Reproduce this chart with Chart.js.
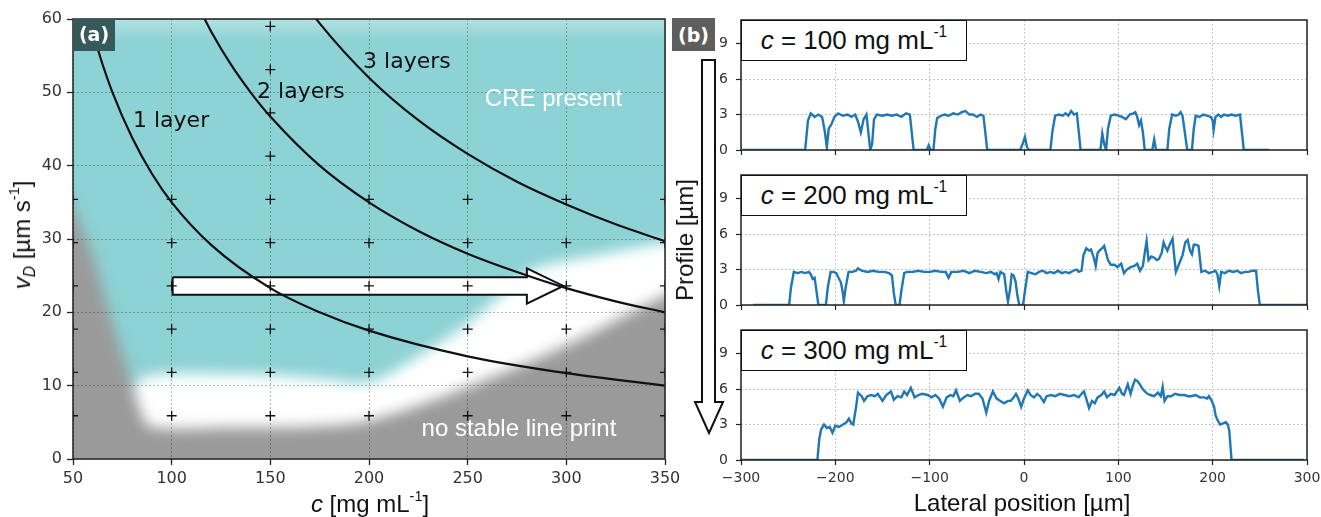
<!DOCTYPE html>
<html>
<head>
<meta charset="utf-8">
<title>Line print regimes and height profiles</title>
<script src="https://cdn.jsdelivr.net/npm/chart.js@4.4.1/dist/chart.umd.min.js"></script>
<style>
  html, body { margin: 0; padding: 0; background: #fff; }
  body { position: relative; width: 1321px; height: 517px; overflow: hidden; font-family: "Liberation Sans", Arial, sans-serif; color: #111; }
  canvas { position: absolute; }
  .txt { position: absolute; white-space: nowrap; line-height: 1; }
  .txt sup, .legend sup { font-size: 60%; vertical-align: 0; position: relative; top: -0.75em; }
  .txt sub { font-size: 65%; vertical-align: 0; position: relative; top: 0.3em; }
  .ctr { transform: translate(-50%, -50%); }
  .rot { transform: translate(-50%, -50%) rotate(-90deg); }
  .tag { position: absolute; color: #fff; font-weight: bold; font-family: "DejaVu Sans"; font-size: 19px; display: flex; align-items: center; justify-content: center; }
  .legend { position: absolute; box-sizing: border-box; width: 226px; height: 41px; background: #fff; border: 1.5px solid #111; display: flex; align-items: center; justify-content: center; font-size: 26px; white-space: nowrap; }
</style>
</head>
<body>
<canvas id="phase" width="690" height="517" style="left:0;top:0"></canvas>
<canvas id="prof0" width="661" height="160" style="left:660px;top:0"></canvas>
<canvas id="prof1" width="661" height="160" style="left:660px;top:160px"></canvas>
<canvas id="prof2" width="661" height="197" style="left:660px;top:320px"></canvas>

<div class="txt ctr" style="left:370px;top:504px;font-size:24px"><i>c</i> [mg mL<sup>-1</sup>]</div>
<div class="txt rot" style="left:22px;top:235px;font-size:24px"><i>v</i><sub><i>D</i></sub> [µm s<sup>-1</sup>]</div>
<div class="txt ctr" style="left:1022px;top:503px;font-size:24px">Lateral position [µm]</div>
<div class="txt rot" style="left:685px;top:240px;font-size:24px">Profile [µm]</div>
<div class="tag" style="left:672px;top:18px;width:43px;height:33px;background:#5e5e5e">(b)</div>
<svg style="position:absolute;left:690px;top:55px" width="40" height="385">
  <polygon points="12,5 25,5 25,347 33,347 19,378 5,347 12,347" fill="#fff" stroke="#111" stroke-width="2"/>
</svg>
<div id="legends"></div>

<script>
// ---- panel (a): print speed vs concentration ----
const concTicks = [50, 100, 150, 200, 250, 300, 350];
const speedTicks = [0, 10, 20, 30, 40, 50, 60];

const layer1C = [58, 60, 65, 70, 80, 90, 100, 120, 150, 175, 200, 250, 300, 350];
const layer1V = [60.3, 58.3, 53.8, 50.0, 43.8, 38.9, 35.0, 29.2, 23.3, 20.0, 17.5, 14.0, 11.7, 10.0];
const layer2C = [115, 120, 130, 140, 150, 175, 200, 225, 250, 275, 300, 325, 350];
const layer2V = [60.9, 58.3, 53.8, 50.0, 46.7, 40.0, 35.0, 31.1, 28.0, 25.5, 23.3, 21.5, 20.0];
const layer3C = [172, 175, 200, 225, 250, 275, 300, 325, 350];
const layer3V = [60.5, 59.4, 52.0, 46.2, 41.6, 37.8, 34.7, 32.0, 29.7];

// upper edges of the "no stable line print" (gray) and transition (white) zones
const grayEdgeC = [20, 40, 50, 59, 69, 80, 84, 89, 130, 170, 200, 250, 300, 350, 390];
const grayEdgeV = [45, 40, 34, 28.5, 19.4, 10.3, 6.7, 4.4, 4.3, 4.4, 5.2, 9.8, 15.5, 22.3, 27];
const whiteEdgeC = [20, 78, 90, 150, 175, 200, 225, 250, 283, 300, 350, 390];
const whiteEdgeV = [5, 10, 11.5, 11.5, 11, 10.5, 14, 18.5, 25.8, 27, 29.5, 31];

const arrowC = [100.5, 280, 280, 298.5, 280, 280, 100.5, 100.5];
const arrowV = [24.8, 24.8, 26.0, 23.6, 21.2, 22.4, 22.4, 24.8];

const printC = [50, 100, 150, 200, 250, 300, 350];
const printV = [5.9, 11.8, 17.7, 23.6, 29.5, 35.4];
const extraPrintC = [150, 150, 150, 150];
const extraPrintV = [41.3, 47.2, 53.1, 59.0];

const layerLabels = ['1 layer', '2 layers', '3 layers'];

// ---- panel (b): height profiles ----
const lateralTicks = [-300, -200, -100, 0, 100, 200, 300];
const profileTicks = [0, 3, 6, 9];
const concentrations = [100, 200, 300];

const profile100 = [[-298,0],[-232,0],[-229,2.5],[-226,3.1],[-222,2.8],[-218,3.0],[-214,2.8],[-211,1.5],[-209,0.2],[-207,1.8],[-204,2.2],[-201,2.8],[-197,3.1],[-192,2.9],[-187,3.0],[-183,2.8],[-179,3.0],[-176,2.4],[-173,1.5],[-170,2.6],[-167,3.0],[-165,1.5],[-163,0],[-161,0.5],[-159,2.6],[-156,3.0],[-150,2.9],[-145,3.0],[-140,2.9],[-135,3.0],[-130,2.8],[-125,3.1],[-121,3.0],[-119,1.5],[-117,0],[-103,0],[-101,0.4],[-99,0],[-96,0],[-94,1.8],[-92,2.7],[-88,2.9],[-84,3.0],[-80,2.9],[-75,3.1],[-70,3.0],[-66,3.2],[-62,3.3],[-58,3.0],[-54,3.0],[-50,2.8],[-46,3.0],[-43,2.9],[-41,1.5],[-39,0],[-4,0],[-1,0.6],[1,1.1],[3,0.3],[5,0],[28,0],[30,1.5],[33,2.9],[37,3.0],[41,2.9],[44,3.1],[47,2.9],[50,3.3],[53,3.0],[56,3.1],[58,1.6],[60,0],[81,0],[83,1.4],[85,0.5],[87,0],[89,1.8],[92,2.9],[96,3.0],[100,2.9],[104,2.8],[108,2.6],[112,3.0],[116,3.1],[118,3.2],[120,2.8],[122,2.1],[124,2.5],[126,1.5],[128,0],[136,0],[138,0.9],[140,0],[152,0],[154,1.8],[157,3.0],[161,2.9],[164,3.0],[166,3.2],[168,2.9],[171,1.2],[173,0],[178,0],[180,1.8],[182,2.9],[186,2.8],[190,3.0],[194,2.9],[198,2.8],[200,2.5],[201,1.7],[203,2.8],[206,3.0],[209,2.8],[212,3.0],[216,2.9],[220,3.0],[224,2.9],[229,3.0],[231,1.5],[233,0],[260,0]];

const profile200 = [[-287,0],[-249,0],[-247,1.5],[-244,2.8],[-240,2.7],[-236,2.8],[-232,2.7],[-228,2.8],[-226,2.6],[-224,2.2],[-222,2.3],[-220,1.2],[-218,0],[-210,0],[-208,1.5],[-205,2.8],[-202,2.8],[-199,2.7],[-196,2.2],[-194,1.9],[-192,1.0],[-191,0.3],[-189,1.5],[-186,2.8],[-182,2.8],[-178,2.9],[-176,3.1],[-172,2.9],[-166,2.8],[-160,2.9],[-154,2.8],[-148,2.8],[-143,2.7],[-140,2.5],[-138,1.0],[-136,0],[-132,0],[-130,1.2],[-127,2.7],[-124,2.8],[-118,2.8],[-112,2.9],[-106,2.8],[-100,2.8],[-94,2.9],[-88,2.8],[-83,2.8],[-80,2.3],[-77,2.8],[-70,2.8],[-64,2.9],[-58,2.7],[-52,2.9],[-46,2.8],[-40,2.7],[-35,2.8],[-31,2.6],[-29,2.7],[-27,2.2],[-25,2.8],[-21,2.6],[-19,1.3],[-17,0.3],[-15,1.2],[-13,2.6],[-11,2.5],[-9,2.0],[-7,0.8],[-5,0],[-1,0],[1,1.2],[4,2.8],[8,2.7],[12,2.6],[16,2.8],[20,2.9],[24,2.7],[28,2.8],[32,2.7],[36,2.9],[40,2.7],[44,2.8],[48,2.7],[52,2.9],[56,3.0],[58,2.8],[61,2.9],[63,4.2],[66,4.8],[69,4.6],[71,4.7],[74,4.0],[76,3.3],[78,4.4],[80,4.6],[83,4.8],[85,5.0],[87,4.4],[89,3.8],[92,3.4],[96,3.4],[99,3.2],[103,3.5],[106,2.7],[109,3.0],[113,3.2],[117,3.3],[120,3.5],[123,2.9],[126,3.3],[128,4.4],[130,5.4],[132,3.8],[135,4.1],[138,4.0],[141,3.8],[143,3.9],[146,4.4],[148,5.3],[150,4.9],[152,4.6],[155,5.2],[157.5,5.6],[159,4.3],[161,2.8],[163,3.2],[165,3.6],[168,4.2],[171,5.3],[173.5,5.5],[176,4.6],[178,4.3],[180,5.1],[182,5.1],[185,5.0],[188,2.8],[192,2.9],[196,2.7],[200,2.8],[203,2.9],[205,2.6],[207,1.6],[209,2.8],[213,2.7],[217,2.9],[222,2.8],[226,2.9],[230,2.7],[234,2.8],[238,2.8],[242,2.9],[246,2.9],[248,1.2],[250,0],[300,0]];

const profile300 = [[-300,0],[-219,0],[-217,1.8],[-215,2.6],[-212,3.0],[-209,2.7],[-206,2.8],[-203,2.3],[-200,2.9],[-196,2.8],[-192,3.0],[-188,3.2],[-185.6,3.5],[-183,3.1],[-181,3.0],[-178,4.5],[-176,5.7],[-172,5.4],[-169.6,5.0],[-166,5.4],[-162,5.5],[-158,5.4],[-155,5.6],[-150,5.0],[-146,5.5],[-141,5.8],[-138,5.1],[-134,5.4],[-130,5.3],[-127,5.8],[-124,5.5],[-120,6.1],[-116,5.3],[-112,5.5],[-108,5.6],[-102,5.5],[-98,5.3],[-94,5.5],[-90,5.2],[-86,4.5],[-82,5.3],[-78,5.5],[-75,5.4],[-72,5.9],[-68,5.0],[-64,5.3],[-60,5.5],[-56,5.4],[-52,5.6],[-48,5.6],[-44,5.2],[-40,4.0],[-37,5.0],[-33,5.8],[-29,5.2],[-25,5.0],[-21,4.8],[-17,5.0],[-14,5.0],[-11,5.3],[-8.5,5.6],[-6,5.2],[-3,4.5],[0,5.2],[4,5.9],[7,5.5],[10.6,5.3],[14,5.6],[17,5.4],[21,4.9],[24,5.4],[28.6,5.5],[33,5.4],[38,5.6],[43,5.5],[48,5.4],[53,5.5],[58,5.3],[61,5.6],[63.6,5.8],[66,5.2],[69,4.4],[72,5.0],[75,4.8],[78,5.3],[82,5.5],[85,5.8],[88,5.3],[92,5.6],[96,5.5],[101,6.1],[104,5.6],[106,5.5],[110,6.4],[113,5.6],[115,6.2],[117.7,6.8],[120,6.7],[122,6.5],[125,6.1],[128,5.8],[131,5.6],[134,5.5],[138,5.4],[142,5.7],[145,5.4],[147,6.2],[149,5.0],[152,5.4],[156,5.4],[160,5.6],[165,5.5],[170,5.5],[174,5.4],[177,5.4],[182,5.5],[186,5.3],[191,5.3],[194,5.2],[196,5.4],[199,5.0],[201.6,4.5],[203,3.8],[205,3.4],[208,3.0],[211,3.1],[214,3.2],[216,3.0],[217.6,2.5],[220,0],[297,0]];

const profiles = [profile100, profile200, profile300];

Chart.defaults.font.family = '"DejaVu Sans", sans-serif';

const toPoints = (xs, ys) => xs.map((x, i) => ({x, y: ys[i]}));
const fixedTicks = list => scale => { scale.ticks = list.map(v => ({value: v})); };
const fixSize = (size, horizontal) => scale => {
  if (horizontal) scale.height = size; else scale.width = size;
  scale.paddingLeft = scale.paddingRight = scale.paddingTop = scale.paddingBottom = 0;
};
const minusSign = v => (v < 0 ? '\u2212' + Math.abs(v) : String(v));

const markers = [];
printC.forEach(c => printV.forEach(v => markers.push({x: c, y: v})));
extraPrintC.forEach((c, i) => markers.push({x: c, y: extraPrintV[i]}));

const REGION_LAST = 1; // index of the last blurred region dataset

const phasePlugin = {
  id: 'phase',
  beforeDraw(chart) {
    const {ctx, chartArea: a} = chart;
    const g = ctx.createLinearGradient(0, a.top, 0, a.top + 22);
    g.addColorStop(0, '#b2e2e3');
    g.addColorStop(1, '#8dd2d5');
    ctx.save();
    ctx.fillStyle = g;
    ctx.fillRect(a.left, a.top, a.right - a.left, a.bottom - a.top);
    ctx.restore();
  },
  beforeDatasetsDraw(chart) {
    chart.ctx.filter = 'blur(7px)';
  },
  afterDatasetDraw(chart, args) {
    if (args.index === REGION_LAST) chart.ctx.filter = 'none';
  },
  afterDraw(chart) {
    const {ctx, chartArea: a, scales: {x, y}} = chart;
    ctx.save();
    ctx.strokeStyle = '#222';
    ctx.lineWidth = 1.5;
    ctx.strokeRect(a.left, a.top, a.right - a.left, a.bottom - a.top);

    ctx.fillStyle = '#111';
    ctx.font = '22px "DejaVu Sans"';
    ctx.textAlign = 'left';
    ctx.textBaseline = 'middle';
    ctx.fillText(layerLabels[0], x.getPixelForValue(80.4), y.getPixelForValue(46.1));
    ctx.fillText(layerLabels[1], x.getPixelForValue(143.3), y.getPixelForValue(50.0));
    ctx.fillText(layerLabels[2], x.getPixelForValue(197), y.getPixelForValue(54.1));

    ctx.fillStyle = '#fff';
    ctx.font = '24px "Liberation Sans"';
    ctx.textAlign = 'center';
    ctx.fillText('CRE present', x.getPixelForValue(293.5), y.getPixelForValue(49));
    ctx.fillText('no stable line print', x.getPixelForValue(276), y.getPixelForValue(4));

    ctx.fillStyle = '#36595a';
    ctx.fillRect(a.left, a.top, 42, 32);
    ctx.fillStyle = '#fff';
    ctx.font = 'bold 19px "DejaVu Sans"';
    ctx.fillText('(a)', a.left + 21, a.top + 17);
    ctx.restore();
  }
};

const curve = (xs, ys) => ({
  data: toPoints(xs, ys), showLine: true, borderColor: '#111', borderWidth: 2.2,
  pointRadius: 0, cubicInterpolationMode: 'monotone', order: 2
});

new Chart(document.getElementById('phase'), {
  type: 'scatter',
  data: {
    datasets: [
      {data: toPoints(whiteEdgeC, whiteEdgeV), showLine: true, borderWidth: 0, borderColor: 'transparent',
       pointRadius: 0, fill: {value: -10}, backgroundColor: '#ffffff', tension: 0.3, order: 6},
      {data: toPoints(grayEdgeC, grayEdgeV), showLine: true, borderWidth: 0, borderColor: 'transparent',
       pointRadius: 0, fill: {value: -10}, backgroundColor: '#9a9a9a', tension: 0.3, order: 5},
      curve(layer1C, layer1V),
      curve(layer2C, layer2V),
      curve(layer3C, layer3V),
      {data: toPoints(arrowC, arrowV), showLine: true, borderColor: '#111', borderWidth: 2,
       backgroundColor: '#ffffff', fill: 'shape', pointRadius: 0, tension: 0, order: 3},
      {data: markers, pointStyle: 'cross', pointRadius: 5, borderColor: '#111', borderWidth: 1.3,
       clip: 0, order: 1}
    ]
  },
  options: {
    responsive: false,
    animation: false,
    events: [],
    layout: {padding: {left: 0, right: 25, top: 19, bottom: 0}},
    plugins: {legend: {display: false}, tooltip: {enabled: false}},
    scales: {
      x: {
        type: 'linear', min: 50, max: 350,
        afterBuildTicks: fixedTicks(concTicks),
        afterFit: fixSize(58, true),
        ticks: {font: {size: 16}, color: '#333', padding: 4, autoSkip: false, maxRotation: 0},
        grid: {color: 'rgba(0,0,0,0.28)', lineWidth: 1, tickLength: 6, tickColor: '#222', tickWidth: 1.3, tickBorderDash: [], z: 1},
        border: {display: false, dash: [2, 2]}
      },
      y: {
        min: 0, max: 60,
        afterBuildTicks: fixedTicks(speedTicks),
        afterFit: fixSize(73, false),
        ticks: {font: {size: 16}, color: '#333', padding: 5, autoSkip: false},
        grid: {color: 'rgba(0,0,0,0.28)', lineWidth: 1, tickLength: 6, tickColor: '#222', tickWidth: 1.3, tickBorderDash: [], z: 1},
        border: {display: false, dash: [2, 2]}
      }
    }
  },
  plugins: [phasePlugin]
});

// ---- panel (b) ----
const framePlugin = {
  id: 'frame',
  afterDraw(chart) {
    const {ctx, chartArea: a} = chart;
    ctx.save();
    ctx.strokeStyle = '#222';
    ctx.lineWidth = 1.5;
    ctx.strokeRect(a.left, a.top, a.right - a.left, a.bottom - a.top);
    ctx.restore();
  }
};

const profileLayout = [
  {padTop: 20, axisHeight: 10, labels: false},
  {padTop: 15, axisHeight: 15, labels: false},
  {padTop: 10, axisHeight: 57, labels: true}
];

profiles.forEach((data, i) => {
  const lay = profileLayout[i];
  new Chart(document.getElementById('prof' + i), {
    type: 'scatter',
    data: {
      datasets: [{data, showLine: true, borderColor: '#1f77b4', borderWidth: 2.4, pointRadius: 0, tension: 0, clip: 0}]
    },
    options: {
      responsive: false,
      animation: false,
      events: [],
      layout: {padding: {left: 0, right: 14, top: lay.padTop, bottom: 0}},
      plugins: {legend: {display: false}, tooltip: {enabled: false}},
      scales: {
        x: {
          type: 'linear', min: -300, max: 300,
          afterBuildTicks: fixedTicks(lateralTicks),
          afterFit: fixSize(lay.axisHeight, true),
          ticks: {display: lay.labels, font: {size: 14}, color: '#333', padding: 5, autoSkip: false, maxRotation: 0, callback: minusSign},
          grid: {color: 'rgba(0,0,0,0.22)', lineWidth: 1, tickLength: 5, tickColor: '#222', tickWidth: 1.2, tickBorderDash: []},
          border: {display: false, dash: [2, 2]}
        },
        y: {
          min: 0, max: 11,
          afterBuildTicks: fixedTicks(profileTicks),
          afterFit: fixSize(81, false),
          ticks: {font: {size: 14}, color: '#333', padding: 8, autoSkip: false},
          grid: {color: 'rgba(0,0,0,0.22)', lineWidth: 1, tickLength: 5, tickColor: '#222', tickWidth: 1.2, tickBorderDash: []},
          border: {display: false, dash: [2, 2]}
        }
      }
    },
    plugins: [framePlugin]
  });
});

// legend boxes, one per concentration
const legendTops = [20, 175, 330];
const holder = document.getElementById('legends');
concentrations.forEach((c, i) => {
  const box = document.createElement('div');
  box.className = 'legend';
  box.style.left = '741px';
  box.style.top = legendTops[i] + 'px';
  box.innerHTML = '<span><i>c</i> = ' + c + ' mg mL<sup>-1</sup></span>';
  holder.appendChild(box);
});
</script>
</body>
</html>
